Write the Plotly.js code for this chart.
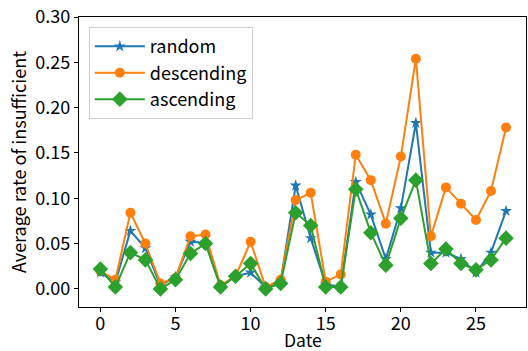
<!DOCTYPE html>
<html>
<head>
<meta charset="utf-8">
<script src="https://cdn.plot.ly/plotly-3.0.1.min.js"></script>
<style>html,body{margin:0;padding:0;background:#fff;}#chart{width:528px;height:351px;}</style>
</head>
<body>
<div id="chart"></div>
<script>
const dates = [0,1,2,3,4,5,6,7,8,9,10,11,12,13,14,15,16,17,18,19,20,21,22,23,24,25,26,27];
const randomVals = [0.018,0.007,0.064,0.045,0.004,0.013,0.052,0.051,0.003,0.014,0.018,0.002,0.008,0.114,0.056,0.005,0.002,0.118,0.082,0.033,0.089,0.183,0.040,0.040,0.033,0.018,0.040,0.086];
const descendingVals = [0.020,0.010,0.084,0.050,0.006,0.012,0.058,0.060,0.004,0.014,0.052,0.002,0.010,0.098,0.106,0.008,0.016,0.148,0.120,0.072,0.146,0.254,0.058,0.112,0.094,0.076,0.108,0.178];
const ascendingVals = [0.022,0.002,0.040,0.032,0.000,0.010,0.039,0.050,0.002,0.014,0.028,0.000,0.006,0.084,0.070,0.002,0.002,0.110,0.062,0.026,0.078,0.120,0.028,0.044,0.028,0.021,0.032,0.056];
const seriesNames = ["random","descending","ascending"];
const yTicks = [0.00,0.05,0.10,0.15,0.20,0.25,0.30];
const yTickText = ["0.00","0.05","0.10","0.15","0.20","0.25","0.30"];
const xTicks = [0,5,10,15,20,25];
const xLabel = "Date";
const yLabel = "Average rate of insufficient";

const FONT = '"Noto Sans CJK JP", "Noto Sans", sans-serif';
const FS = 18;
const traces = [
  {x: dates, y: randomVals, name: seriesNames[0], mode: 'lines+markers',
   line: {color: '#1f77b4', width: 2}, marker: {symbol: 'star', size: 9, color: '#1f77b4'}},
  {x: dates, y: descendingVals, name: seriesNames[1], mode: 'lines+markers',
   line: {color: '#ff7f0e', width: 2}, marker: {symbol: 'circle', size: 10, color: '#ff7f0e'}},
  {x: dates, y: ascendingVals, name: seriesNames[2], mode: 'lines+markers',
   line: {color: '#2ca02c', width: 2}, marker: {symbol: 'diamond', size: 12, color: '#2ca02c'}}
];
const axisCommon = {
  showline: true, linecolor: '#000', linewidth: 1.2, mirror: true,
  ticks: 'outside', ticklen: 4, tickwidth: 1, tickcolor: '#000',
  showgrid: false, zeroline: false,
  tickfont: {family: FONT, size: FS, color: '#000'}
};
const layout = {
  width: 528, height: 351,
  margin: {l: 79, r: 2, t: 17, b: 44},
  paper_bgcolor: '#fff', plot_bgcolor: '#fff',
  font: {family: FONT, color: '#000'},
  showlegend: true,
  legend: {x: 0.022, y: 0.965, xanchor: 'left', yanchor: 'top', itemwidth: 50,
    bgcolor: 'rgba(255,255,255,0.8)', bordercolor: '#d0d0d0', borderwidth: 1,
    font: {family: FONT, size: FS, color: '#000'}},
  xaxis: Object.assign({}, axisCommon, {range: [-1.42, 28.33], tickvals: xTicks, ticklabelstandoff: -4}),
  yaxis: Object.assign({}, axisCommon, {range: [-0.02, 0.30], tickvals: yTicks, ticktext: yTickText,
    title: {text: yLabel, font: {family: FONT, size: FS, color: '#000'}, standoff: 4}}),
  annotations: [{text: xLabel, xref: 'paper', yref: 'paper', x: 0.5, y: -0.113,
    xanchor: 'center', yanchor: 'middle', showarrow: false, borderpad: 0,
    font: {family: FONT, size: 17.5, color: '#000'}}]
};
Plotly.newPlot('chart', traces, layout, {staticPlot: true, displayModeBar: false});
</script>
</body>
</html>
